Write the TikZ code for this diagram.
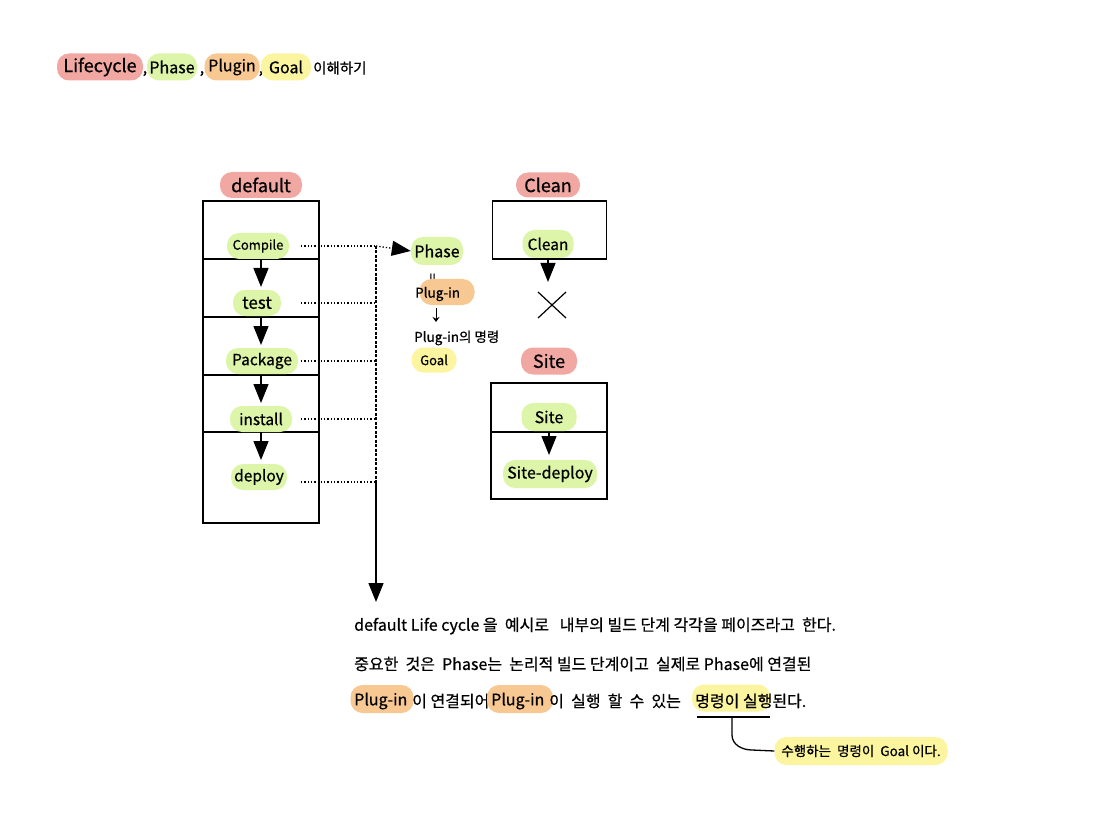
\documentclass[tikz,border=0pt]{standalone}
\usepackage{fontspec}
\setmainfont{Noto Sans CJK KR}[FakeBold=0.6]
\usetikzlibrary{arrows.meta}
\definecolor{pred}{HTML}{F2A8A2}
\definecolor{pgreen}{HTML}{DDF5A8}
\definecolor{porange}{HTML}{F8C893}
\definecolor{pyellow}{HTML}{FAF59E}
\begin{document}
\begin{tikzpicture}[x=1pt,y=-1pt,
  pill/.style={fill=#1, rounded corners=12pt, minimum height=26pt, inner sep=0pt, font=\fontsize{15.5}{17}\selectfont},
  redlabel/.style={pill=pred, font=\fontsize{18}{20}\selectfont},
  txt/.style={inner sep=0pt, font=\fontsize{16}{18}\selectfont},
  boxline/.style={line width=1.4pt},
  tri/.style={line width=1.4pt, -{Triangle[width=15pt,length=19pt]}},
  dots/.style={line width=1.3pt, dotted},
  bus/.style={line width=1.3pt, dash pattern=on 3pt off 1.5pt}]
\useasboundingbox (0,0) rectangle (1097,826);
\fill[white] (0,0) rectangle (1097,826);

% ---------- title ----------
\node[pill=pred, minimum width=86pt, minimum height=27pt, font=\fontsize{18}{20}\selectfont] (tlife) at (100,67) {Lifecycle};
\node[txt, anchor=base] (c1) at (145,73) {,};
\node[pill=pgreen, minimum width=50pt, minimum height=27pt, font=\fontsize{16}{18}\selectfont] (tphase) at (172,67) {Phase};
\node[txt, anchor=base] (c2) at (202,73) {,};
\node[pill=porange, minimum width=55pt, minimum height=27pt, font=\fontsize{16}{18}\selectfont] (tplug) at (232,67) {Plugin};
\node[txt, anchor=base] (c3) at (261,73) {,};
\node[pill=pyellow, minimum width=50pt, minimum height=27pt, font=\fontsize{16}{18}\selectfont] (tgoal) at (286,67) {Goal};
\node[txt, anchor=west, font=\fontsize{14.5}{16}\selectfont] (tund) at (313,68) {이해하기};

% ---------- default lifecycle ----------
\node[redlabel, minimum width=82pt] (ldef) at (261,185) {default};
\node[boxline, draw, minimum width=116pt, minimum height=322pt, inner sep=0pt] (dbox) at (261,362) {};
\foreach \yy in {259,317,375,432} \draw[boxline] (203,\yy) -- (319,\yy);

\node[pill=pgreen, minimum width=62pt, font=\fontsize{13}{15}\selectfont] (compile) at (258,246) {Compile};
\node[pill=pgreen, minimum width=48pt, font=\fontsize{17}{19}\selectfont] (test) at (257,303) {test};
\node[pill=pgreen, minimum width=72pt] (package) at (262,361) {Package};
\node[pill=pgreen, minimum width=62pt] (install) at (261,419) {install};
\node[pill=pgreen, minimum width=56pt] (deploy) at (259,477) {deploy};

\foreach \yy/\n in {259/1,317/2,375/3,432/4}{
  \coordinate (s\n) at (261,\yy);
  \coordinate (e\n) at (261,\yy+28);
  \draw[tri] (s\n) -- (e\n);
}

% dotted links to the bus
\coordinate (b1) at (376,246);
\coordinate (b2) at (376,303);
\coordinate (b3) at (376,361);
\coordinate (b4) at (376,419);
\coordinate (b5) at (376,482);
\coordinate (bend) at (376,602);
\coordinate (o1) at (301,246);
\coordinate (o2) at (301,303);
\coordinate (o3) at (301,361);
\coordinate (o4) at (301,419);
\coordinate (o5) at (301,482);

% ---------- phase explanation ----------
\node[pill=pgreen, minimum width=52pt, minimum height=28pt, font=\fontsize{16}{18}\selectfont] (phase) at (437,251) {Phase};
\draw[dots] (o1) -- (b1);
\draw[dots, -{Triangle[width=15pt,length=19pt]}] (b1) -- (phase.west);
\draw[dots] (o2) -- (b2);
\draw[dots] (o3) -- (b3);
\draw[dots] (o4) -- (b4);
\draw[dots] (o5) -- (b5);
\draw[bus] (b1) -- (b5);
\draw[line width=1.4pt, -{Triangle[width=15pt,length=19pt]}] (b5) -- (bend);

\node[inner sep=0pt, rotate=90, font=\fontsize{14}{14}\selectfont] (eq) at (434,277) {=};
\node[pill=porange, minimum width=55pt] (plugbg) at (447,292) {};
\node[txt, anchor=west, font=\fontsize{13.5}{15}\selectfont] (plugtxt) at (415,294) {Plug-in};
\node[txt, anchor=west, font=\fontsize{13.5}{15}\selectfont] (plugcmd) at (414,338) {Plug-in의 명령};
\draw[line width=1pt, -{Stealth[width=7pt,length=5pt]}] (436,308) -- (436,322);
\node[pill=pyellow, minimum width=45pt, minimum height=25pt, font=\fontsize{13}{15}\selectfont] (goal) at (434,360) {Goal};

% ---------- clean lifecycle ----------
\node[redlabel, minimum width=64pt, minimum height=25pt] (lclean) at (548,185) {Clean};
\node[boxline, draw, minimum width=114pt, minimum height=58pt, inner sep=0pt] (cbox) at (549.5,230) {};
\node[pill=pgreen, minimum width=51pt, minimum height=28pt] (clean) at (548,244) {Clean};
\coordinate (cs) at (548,259);
\coordinate (ce) at (548,282);
\draw[tri] (cs) -- (ce);
\draw[line width=1.2pt] (538,292) -- (566,318);
\draw[line width=1.2pt] (566,292) -- (538,318);

% ---------- site lifecycle ----------
\node[redlabel, minimum width=56pt, minimum height=27pt] (lsite) at (549,361) {Site};
\node[boxline, draw, minimum width=116pt, minimum height=116pt, inner sep=0pt] (sbox) at (549,441) {};
\draw[boxline] (491,432) -- (607,432);
\node[pill=pgreen, minimum width=55pt, minimum height=28pt, font=\fontsize{16}{18}\selectfont] (site) at (549,417) {Site};
\node[pill=pgreen, minimum width=94pt, minimum height=28pt, font=\fontsize{16}{18}\selectfont] (sdeploy) at (550,474) {Site-deploy};
\coordinate (ss) at (549,432);
\coordinate (se) at (549,455);
\draw[tri] (ss) -- (se);

% ---------- explanation text ----------
\node[txt, anchor=west] (line1) at (354,626) {default Life cycle 을 \ 예시로 \ \ 내부의 빌드 단계 각각을 페이즈라고 \ 한다.};
\node[txt, anchor=west] (line2) at (354,664) {중요한 \ 것은 \ Phase는 \ 논리적 빌드 단계이고 \ 실제로 Phase에 연결된};

\node[pill=porange, minimum width=63pt, minimum height=28pt] (p3a) at (382,699) {};
\node[txt, anchor=west] (t3a) at (354,701) {Plug-in};
\node[txt, anchor=west] (t3b) at (412,701) {이 연결되어};
\node[pill=porange, minimum width=66pt, minimum height=28pt] (p3b) at (520,699) {};
\node[txt, anchor=west] (t3c) at (491,701) {Plug-in};
\node[txt, anchor=west] (t3d) at (549,701) {이 \ 실행 \ 할 \ 수 \ 있는};
\node[pill=pyellow, minimum width=78pt, minimum height=27pt] (p3e) at (731,698) {};
\node[txt, anchor=west] (t3e) at (695,701) {명령이 실행된다.};

\coordinate (ul1) at (697,717);
\coordinate (ul2) at (770,717);
\draw[line width=1.3pt] (ul1) -- (ul2);
\node[pill=pyellow, minimum width=173pt, minimum height=28pt, font=\fontsize{13.5}{15}\selectfont] (goalnote) at (861,751) {수행하는 \ 명령이 \ Goal 이다.};
\draw[line width=1.3pt] (732,717) -- (732,735) to[out=270,in=180] (752,750) -- (goalnote.west);
\end{tikzpicture}
\end{document}
